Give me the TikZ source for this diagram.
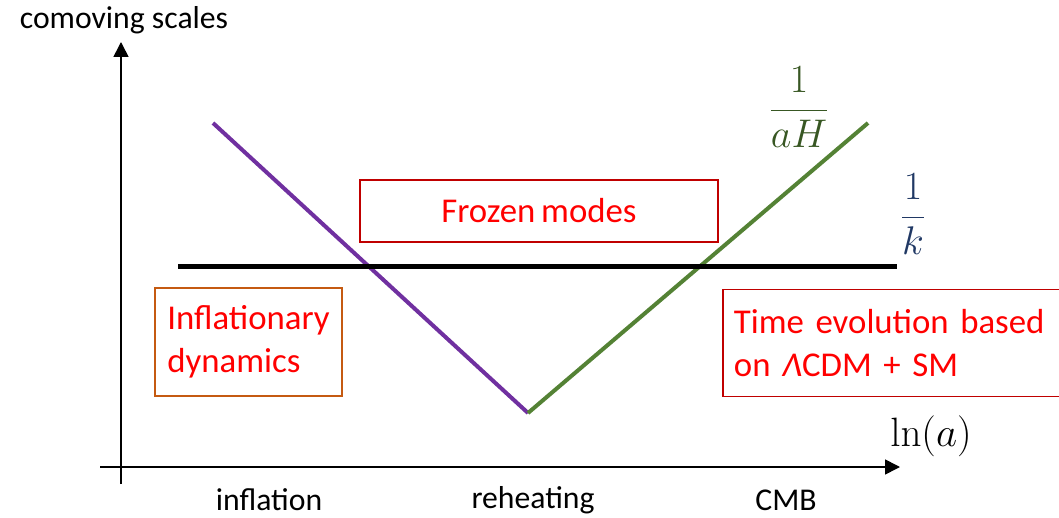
\RequirePackage{fix-cm}
\documentclass[tikz,border=0pt]{standalone}
\usepackage[no-math]{fontspec}
\setmainfont{Carlito}
\newfontfamily\boxfont[WordSpace=0.75]{Carlito}
\setlength{\parindent}{0pt}
\usetikzlibrary{arrows.meta}
\definecolor{infpurple}{HTML}{7030A0}
\definecolor{radgreen}{HTML}{548235}
\definecolor{dkgreen}{HTML}{385723}
\definecolor{navy}{HTML}{203864}
\definecolor{txtred}{HTML}{FF0000}
\definecolor{boxred}{HTML}{C00000}
\definecolor{boxbrown}{HTML}{C55A11}
\tikzset{
  axis/.style={line width=1.6pt,-{Triangle[length=15pt,width=15pt]}},
  lbl/.style={font=\fontsize{31.7}{38}\selectfont,inner sep=0pt},
  boxtxt/.style={font=\boxfont\fontsize{34.8}{43}\selectfont,text=txtred,line width=1.8pt,inner sep=0pt},
  frac/.style={font=\fontsize{40}{48}\selectfont,inner sep=0pt}
}
\begin{document}
\begin{tikzpicture}[x=1pt,y=-1pt]
\useasboundingbox (0,0) rectangle (1059,518);
% axes
\coordinate (ybot) at (121,484);
\coordinate (ytop) at (121,42);
\coordinate (xl) at (100,467);
\coordinate (xr) at (900,467);
\draw[axis] (ybot) -- (ytop);
\draw[axis] (xl) -- (xr);
\node[lbl] (ylab) at (124,20) {comoving scales};
\node[font=\fontsize{41}{48}\selectfont,inner sep=0pt] (lna) at (931,436) {$\ln(a)$};
% curves
\coordinate (p1) at (213,123);
\coordinate (v) at (528,413);
\coordinate (g1) at (868,123);
\draw[infpurple,line width=4pt] (p1) -- (v);
\draw[radgreen,line width=4pt] (v) -- (g1);
\coordinate (k1) at (178,267);
\coordinate (k2) at (897,267);
\draw[black,line width=5pt] (k1) -- (k2);
% fraction labels
\node[frac,text=dkgreen] (aH) at (799,107) {$\displaystyle\frac{1}{aH}$};
\node[frac,text=navy] (kk) at (913,214) {$\displaystyle\frac{1}{k}$};
% boxes
\node[boxtxt,draw=boxred,minimum width=358pt,minimum height=62pt] (frozen) at (539,211) {Frozen modes};
\node[boxtxt,draw=boxbrown,minimum width=187pt,minimum height=108pt,align=left] (infl) at (248.5,342) {Inflationary\\dynamics};
\node[boxtxt,draw=boxred,minimum height=107pt,align=left,text width=340pt,inner xsep=11pt,anchor=west] (lcdm) at (722,343) {Time evolution based\\on \textit{Λ}CDM + SM};
% bottom labels
\node[lbl] (tinf) at (269,500) {inflation};
\node[lbl] (treh) at (533,500) {reheating};
\node[lbl] (tcmb) at (786,500) {CMB};
\end{tikzpicture}
\end{document}
